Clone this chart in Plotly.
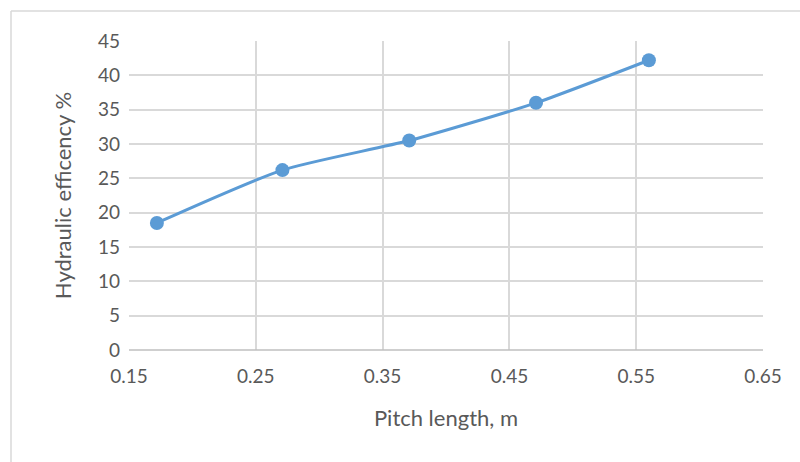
import plotly.graph_objects as go

pitch_length = [0.172, 0.271, 0.371, 0.471, 0.560]
hydraulic_eff = [18.5, 26.2, 30.5, 36.0, 42.2]
x_ticks = [0.15, 0.25, 0.35, 0.45, 0.55, 0.65]
y_ticks = [0, 5, 10, 15, 20, 25, 30, 35, 40, 45]

W, H = 800, 462
L, R, T, B = 129, 37, 41, 112
pw, ph = W - L - R, H - T - B

fig = go.Figure()
fig.add_trace(go.Scatter(
    x=pitch_length, y=hydraulic_eff, mode="lines+markers",
    line=dict(color="#5b9bd5", width=3, shape="spline", smoothing=0.6),
    marker=dict(color="#5b9bd5", size=14),
    showlegend=False,
))

font_family = "Lato, 'Open Sans', sans-serif"
fig.update_layout(
    width=W, height=H,
    margin=dict(l=L, r=R, t=T, b=B),
    paper_bgcolor="white", plot_bgcolor="white",
    font=dict(family=font_family, color="#595959", size=19),
    xaxis=dict(
        range=[0.15, 0.65], tickvals=x_ticks, ticktext=[f"{v:.2f}" for v in x_ticks],
        showgrid=True, gridcolor="#d9d9d9", gridwidth=1.5,
        showline=False, zeroline=False, ticks="",
        ticklabelstandoff=13,
        title=dict(text="Pitch length, m", font=dict(size=22, color="#595959"), standoff=24),
        mirror=False,
    ),
    yaxis=dict(
        range=[0, 45], tickvals=y_ticks,
        showgrid=True, gridcolor="#d9d9d9", gridwidth=1.5,
        showline=False, zeroline=False, ticks="",
        ticklabelstandoff=8,
        title=dict(text="Hydraulic efficency %", font=dict(size=22, color="#595959"), standoff=20),
    ),
    shapes=[
        dict(type="line", xref="paper", yref="paper", x0=0, x1=1, y0=0, y1=0,
             line=dict(color="#bfbfbf", width=1.5)),
        dict(type="line", xref="paper", yref="paper",
             x0=(11 - L) / pw, x1=(W - L) / pw, y0=(H - 11 - B) / ph, y1=(H - 11 - B) / ph,
             line=dict(color="#d9d9d9", width=1.5)),
        dict(type="line", xref="paper", yref="paper",
             x0=(11 - L) / pw, x1=(11 - L) / pw, y0=(H - 11 - B) / ph, y1=-B / ph,
             line=dict(color="#d9d9d9", width=1.5)),
    ],
)

fig.write_html("out.html")
